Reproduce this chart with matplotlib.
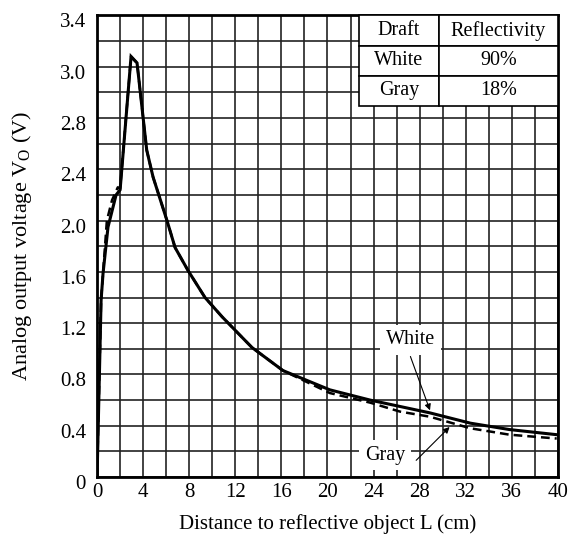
import matplotlib
matplotlib.use("Agg")
import matplotlib.pyplot as plt
import matplotlib.transforms as mtransforms
import numpy as np

plt.rcParams['font.family'] = ['Liberation Serif', 'DejaVu Serif']
plt.rcParams['mathtext.fontset'] = 'custom'
plt.rcParams['mathtext.rm'] = 'Liberation Serif'

# distance (cm) / output (V) (0.2 per row)
white_x = [0, 0.35, 0.52, 0.95, 1.65, 2.0, 2.95, 3.47, 4.31, 4.86, 6.07, 6.77, 7.9,
           9.37, 10.85, 12.58, 13.45, 16.14, 20.2, 23.7, 26.3, 28.9, 32.4, 35.8, 39.9]
white_y = [0, 1.38, 1.59, 1.95, 2.2, 2.24, 3.28, 3.23, 2.55, 2.34, 2.0, 1.79, 1.61,
           1.4, 1.25, 1.09, 1.01, 0.83, 0.68, 0.6, 0.55, 0.5, 0.42, 0.37, 0.33]
gray_x = [0, 0.35, 0.52, 0.85, 1.3, 1.8, 2.0, 2.95, 3.47, 4.31, 4.86, 6.07, 6.77, 7.9,
          9.37, 10.85, 12.58, 13.45, 16.14, 20.2, 23.7, 26.3, 28.9, 32.4, 35.8, 39.9]
gray_y = [0, 1.38, 1.59, 2.0, 2.16, 2.26, 2.25, 3.28, 3.23, 2.55, 2.34, 2.0, 1.79, 1.61,
          1.4, 1.25, 1.09, 1.01, 0.83, 0.655, 0.58, 0.51, 0.47, 0.38, 0.33, 0.3]

xticks = list(range(0, 41, 4))
yticks = [0, 0.4, 0.8, 1.2, 1.6, 2.0, 2.4, 2.8, 3.2, 3.6]
ytick_labels = ['0', '0.4', '0.8', '1.2', '1.6', '2.0', '2.4', '2.8', '3.0', '3.4']

table_rows = [['Draft', 'Reflectivity'], ['White', '90%'], ['Gray', '18%']]

fig = plt.figure(figsize=(5.71, 5.38), dpi=100)
ax = fig.add_axes([0.170, 0.1134, 0.807, 0.8578])

ax.plot(white_x, white_y, color='black', lw=2.2, zorder=3, solid_joinstyle='miter')
ax.plot(gray_x, gray_y, color='black', lw=1.8, ls=(0, (3.5, 2)), zorder=3)

ax.set_xlim(0, 40)
ax.set_ylim(0, 3.6)
ax.set_xticks(xticks)
ax.set_xticks(np.arange(0, 41, 2), minor=True)
ax.set_yticks(yticks)
ax.set_yticklabels(ytick_labels)
ax.set_yticks(np.arange(0, 3.61, 0.2), minor=True)
ax.grid(True, which='both', color='#222222', lw=1.2, zorder=1)
ax.tick_params(which='both', length=0, labelsize=15, pad=4)
ax.tick_params(axis='y', pad=8)
shift = mtransforms.ScaledTranslation(0, -0.05, fig.dpi_scale_trans)
for lbl in ax.get_yticklabels():
    lbl.set_transform(lbl.get_transform() + shift)
for s in ax.spines.values():
    s.set_linewidth(2)
    s.set_zorder(4)

ax.set_xlabel('Distance to reflective object L (cm)', fontsize=15, labelpad=9)
ax.set_ylabel(r'Analog output voltage V$_\mathrm{O}$ (V)', fontsize=16)
ax.yaxis.set_label_coords(-0.137, 0.5)

tb = ax.table(cellText=table_rows, cellLoc='center', colWidths=[0.404, 0.596],
              bbox=[0.568, 0.804, 0.432, 0.196], zorder=5)
tb.auto_set_font_size(False)
tb.set_fontsize(14.5)
for cell in tb.get_celld().values():
    cell.set_linewidth(1.2)
    cell.set_facecolor('white')
    cell.set_edgecolor('black')

box = dict(facecolor='white', edgecolor='none', pad=4)
ax.text(27.2, 1.07, 'White', ha='center', va='center', fontsize=14.5, bbox=box, zorder=6)
ax.text(25.0, 0.17, 'Gray', ha='center', va='center', fontsize=14.5, bbox=box, zorder=6)
arrow = dict(arrowstyle='-|>', lw=0.8, color='black', mutation_scale=9, shrinkA=0, shrinkB=0)
ax.annotate('', xy=(28.9, 0.52), xytext=(27.2, 0.94), arrowprops=arrow, zorder=6)
ax.annotate('', xy=(30.6, 0.39), xytext=(27.7, 0.13), arrowprops=arrow, zorder=6)

fig.savefig('out.png', dpi=100)
